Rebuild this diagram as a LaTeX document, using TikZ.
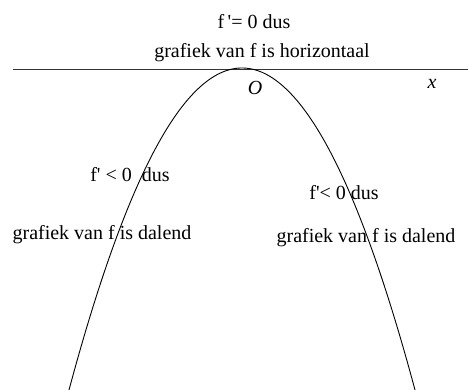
\documentclass[tikz,border=0pt]{standalone}
\usepackage{fontspec}
\setmainfont{Liberation Serif}
\begin{document}
\begin{tikzpicture}[x=1pt,y=-1pt,
  lbl/.style={inner sep=0pt,anchor=center,font=\fontsize{20}{24}\selectfont},
  curve/.style={line width=0.9pt}]
\useasboundingbox (0,0) rectangle (468,390);
\draw[line width=0.9pt,black!80] (13,69) -- (468,69);
\draw[curve,domain=69:415,samples=120,smooth] plot (\x,{68+0.01076*(\x-242)*(\x-242)});
\node[lbl] (t1) at (254,22) {f\,\textquotesingle= 0 dus};
\node[lbl] (t2) at (262,53) {grafiek van f is horizontaal};
\node[lbl] (o) at (255,88) {\itshape O};
\node[lbl] (xl) at (432,84) {\itshape x};
\node[lbl] (l1) at (130,175) {f\textquotesingle{} < 0 \ dus};
\node[lbl] (l2) at (102,235) {grafiek van f is dalend};
\node[lbl] (r1) at (344,193) {f\textquotesingle< 0 dus};
\node[lbl] (r2) at (366,238) {grafiek van f is dalend};
\end{tikzpicture}
\end{document}
